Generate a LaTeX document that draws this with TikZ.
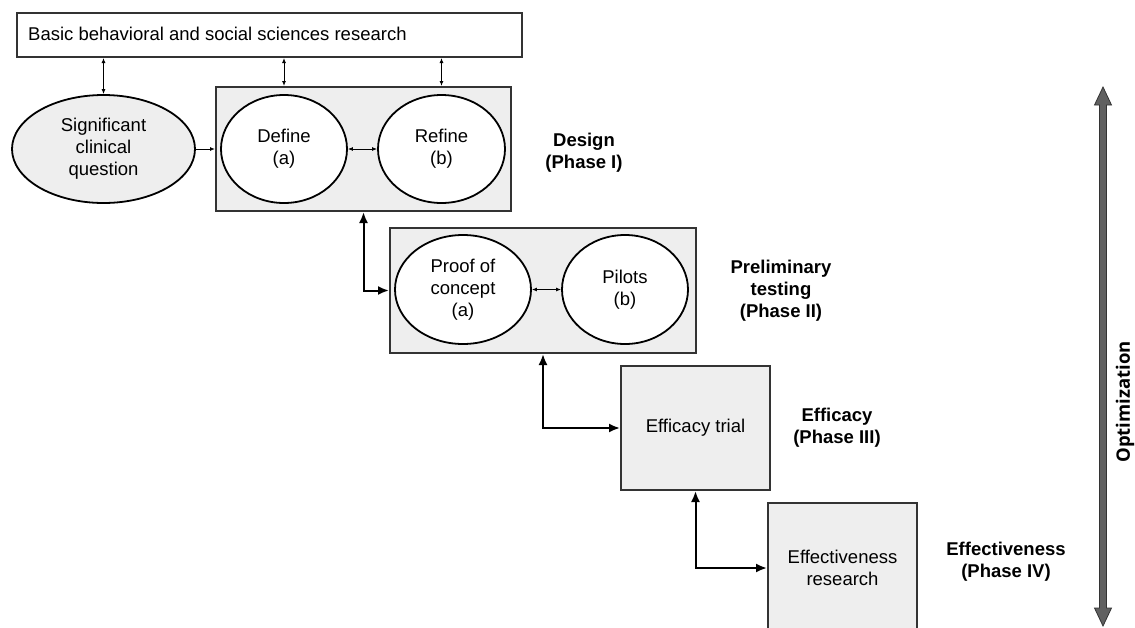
\documentclass[tikz,border=0pt]{standalone}
\usepackage{fontspec}
\setmainfont{Liberation Sans}
\newfontfamily\optfont{Open Sans}
\usetikzlibrary{arrows.meta,shapes.geometric}
\definecolor{boxfill}{HTML}{EEEEEE}
\definecolor{boxline}{HTML}{333333}
\definecolor{optfill}{HTML}{606060}
\begin{document}
\begin{tikzpicture}[x=1pt,y=-1pt,
  every node/.style={font=\fontsize{18.5}{22}\selectfont, inner sep=0pt, align=center},
  phasebox/.style={draw=boxline, line width=2pt, fill=boxfill, rectangle},
  oval/.style={draw=black, line width=1.8pt, fill=white, ellipse},
  thin/.style={line width=0.9pt, {Latex[length=5pt,width=4pt]}-{Latex[length=5pt,width=4pt]}},
  thinone/.style={line width=0.9pt, -{Latex[length=5pt,width=4pt]}},
  thick/.style={line width=2pt, {Latex[length=11pt,width=9pt]}-{Latex[length=11pt,width=9pt]}},
  phaselabel/.style={font=\fontsize{18.5}{22}\selectfont\bfseries}]
\useasboundingbox (0,0) rectangle (1135,627);
\fill[white] (0,0) rectangle (1135,627);

% top box
\node[draw=boxline, line width=2pt, fill=white, minimum width=505pt, minimum height=44pt] (top) at (269.5,35) {};
\node[anchor=west] (toptext) at (28,34) {Basic behavioral and social sciences research};

% significant clinical question
\node[oval, fill=boxfill, minimum width=183pt, minimum height=108pt] (scq) at (103.5,149) {Significant\\clinical\\question};

% design box
\node[phasebox, minimum width=295pt, minimum height=124pt] (design) at (363.5,149) {};
\node[oval, minimum width=126pt, minimum height=108pt] (define) at (284,149) {Define\\(a)};
\node[oval, minimum width=127pt, minimum height=108pt] (refine) at (441.5,149) {Refine\\(b)};

% phase II box
\node[phasebox, minimum width=306pt, minimum height=125pt] (p2) at (543,290.5) {};
\node[oval, minimum width=136pt, minimum height=109pt] (proof) at (463,289.5) {Proof of\\concept\\(a)};
\node[oval, minimum width=126pt, minimum height=109pt] (pilots) at (625,289.5) {Pilots\\(b)};

% efficacy and effectiveness boxes
\node[phasebox, minimum width=149pt, minimum height=124pt] (eff) at (695.5,428) {Efficacy trial};
\node[phasebox, minimum width=149pt, minimum height=130pt] (effv) at (842.5,568) {Effectiveness\\research};

% phase labels
\node[phaselabel] (l1) at (584,152.5) {Design\\(Phase I)};
\node[phaselabel] (l2) at (781,291) {Preliminary\\testing\\(Phase II)};
\node[phaselabel] (l3) at (837,428) {Efficacy\\(Phase III)};
\node[phaselabel] (l4) at (1006,562) {Effectiveness\\(Phase IV)};

% thin connectors
\draw[thin] (scq.north |- top.south) -- (scq.north);
\draw[thin] (define.north |- top.south) -- (define.north |- design.north);
\draw[thin] (refine.north |- top.south) -- (refine.north |- design.north);
\draw[thinone] (scq.east) -- (design.west);
\draw[thin] (define.east) -- (refine.west);
\draw[thin] (proof.east) -- (pilots.west);

% thick elbow connectors
\draw[thick] (design.south) |- (p2.west);
\draw[thick] (p2.south) |- (eff.west);
\draw[thick] (eff.south) |- (effv.west);

% optimization arrow
\coordinate (opttop) at (1103,87);
\coordinate (optbot) at (1103,626);
\filldraw[fill=optfill, draw=boxline, line width=0.8pt]
  (opttop) -- ++(8.5,18) -- ++(-5,0) -- (1106.5,608) -- ++(5,0) -- (optbot)
  -- (1094.5,608) -- ++(5,0) -- (1099.5,105) -- ++(-5,0) -- cycle;
\node[rotate=90, font=\fontsize{18.5}{22}\selectfont\optfont\bfseries] (opt) at (1125,402) {Optimization};
\end{tikzpicture}
\end{document}
